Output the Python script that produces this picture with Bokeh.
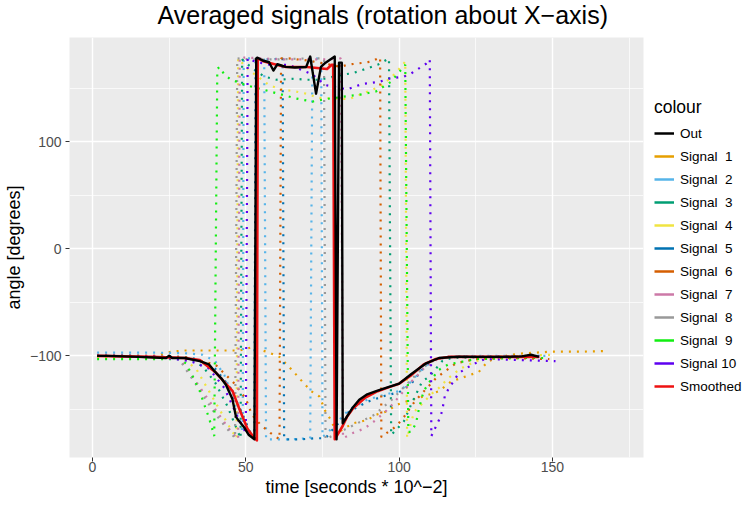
from bokeh.plotting import figure
from bokeh.models import FixedTicker, Legend, LegendItem, Range1d, Title
from bokeh.embed import file_html
from bokeh.resources import INLINE

FONT = "Liberation Sans"

# ---------------- data ----------------
x_ticks = [0, 50, 100, 150]
x_minor = [25, 75, 125, 175]
y_ticks = [-100, 0, 100]
y_tick_labels = ["\u2212100", "0", "100"]
y_minor = [-150, -50, 50, 150]

out_x = [1.5, 5, 10, 15, 20, 24, 25, 26, 30, 35, 38, 40, 42, 43.5, 45.6, 46.8, 47.8, 49.5, 51, 52.8,
         53.4, 53.7, 55.5, 57.6, 59, 60.3, 63, 66, 69.7, 71, 72.9, 74.5, 76, 79, 79.6, 80.4, 81.3, 81.6,
         84.7, 87, 89.6, 92.5, 96.7, 100, 104, 108.8, 113, 119.5, 125, 130, 135, 140, 143, 145.6]
out_y = [-100, -100, -100.5, -101, -101.5, -102, -100, -102, -102, -105, -108, -115, -121, -127, -140, -157,
         -161, -167, -174, -178, 178, 178.7, 176, 174.4, 166.6, 172.5, 170, 169.5, 170, 179.7, 145, 170, 174,
         179.7, -178, 174, 174, -163, -149, -141, -136, -133, -129, -126, -117, -107, -102, -100.7, -101,
         -101, -101, -100.5, -99, -101]

smooth_x = [1.5, 10, 20, 30, 35, 40, 45.7, 47.8, 50.5, 52.8, 53.6, 53.9, 56, 60, 63, 70, 76.5, 78, 78.5,
            79, 81.5, 83, 85, 89, 93, 97, 100, 104, 108, 112, 116, 125, 135, 145.6]
smooth_y = [-100, -100.5, -101, -102, -104, -115, -133, -149, -168, -177, -179, 178, 175, 172, 170, 170,
            168, 172, 172, -178, -166, -157, -149, -139, -133, -129, -126, -118, -108, -103, -101, -101,
            -101, -101]

s1_x = [1.5, 10, 20, 26, 30, 40, 48, 52, 56.6, 61, 65, 68.4, 71.3, 74, 76, 78, 79.5, 82, 85, 89.6, 92.5,
        96, 99, 103, 108, 113, 117, 123, 126, 129, 133.6, 139, 150, 160, 168.4]
s1_y = [-100, -100, -100, -96, -95, -95, -95, -92, -96, -101, -113, -124, -133, -138, -152, -161, -173,
        -168, -163, -160, -155, -152, -146, -142, -138, -133, -124, -118, -115, -105, -100.6, -98, -96,
        -96, -95.5]

s2_x = [1.5, 10, 20, 30, 36, 40, 43, 46, 48, 49, 49.3, 52, 56, 56.6, 60, 65, 71, 71.7, 73, 74.6, 75, 78,
        83.7, 89.6, 95.7, 100, 104, 107.5, 111, 115, 125, 135, 148]
s2_y = [-97, -97, -97, -97.5, -99, -105, -118, -140, -160, -172, 178, 178, 177, -178, -178, -178, -177,
        178, 178, 177, -176, -168, -150, -141, -136, -133, -124, -112, -104, -101, -100, -100, -100]

s3_x = [1.5, 10, 20, 32, 36, 40, 44, 47, 48.3, 48.8, 52, 56, 60, 66, 70, 74, 82, 84.7, 90, 93, 96.7, 97.4,
        99.4, 101.6, 104, 107.5, 110, 114, 117, 130, 147]
s3_y = [-101, -101, -101, -103, -110, -125, -147, -168, -177, 177, 169, 161, 158, 159, 158, 158, 163, 164,
        169, 172, 178, -174, -168, -161, -145, -124, -119, -105, -102, -101, -101]

s4_x = [1.5, 10, 20, 30, 34, 38, 42, 45, 47, 47.5, 50, 52, 57.6, 61.5, 66.4, 69.6, 74, 83.7, 94, 97.7,
        100.6, 102, 102.6, 104, 105, 110.8, 113, 116, 120, 125, 130, 140, 150]
s4_y = [-101, -101, -101, -103, -113, -133, -153, -168, -177, 178, 170, 165, 153, 149, 147, 145, 141, 140,
        152, 161, 170, 175, -177, -161, -152, -135, -130, -121, -112, -105, -101, -100, -99]

s5_x = [1.5, 10, 20, 30, 34, 40, 45, 49, 51.5, 52.8, 53.2, 58, 62, 62.5, 68, 73, 76, 78, 83.7, 89.6, 95.7,
        100, 104, 107.5, 111, 116, 130, 146]
s5_y = [-100, -100, -100.5, -101, -103, -112, -130, -155, -172, -177, 178, 177, 178, -178, -178, -177,
        -177, -170, -152, -143, -137, -134, -126, -113, -104, -101, -100.5, -100]

s6_x = [1.5, 10, 20, 30, 40, 46, 50, 52, 55, 58, 61, 61.5, 64, 70, 76, 81, 83, 88.6, 91, 93.8, 94.2, 96,
        99, 101.6, 105, 107.5, 112, 114.7, 118.5, 125, 135, 149]
s6_y = [-100, -100, -100.5, -101, -108, -125, -140, -155, -165, -172, -178, 178, 178, 176, 173, 170, 172,
        174, 175, 179, -176, -172, -166, -157, -143, -135, -121, -115, -107, -103, -102, -103]

s7_x = [1.5, 10, 20, 28, 31, 34, 38, 42, 45, 47.5, 48, 55, 62, 70, 76, 81, 81.7, 85, 88.6, 92.4, 96.7,
        100.6, 104, 108, 112, 116, 130, 146]
s7_y = [-100, -100, -100.5, -102, -112, -125, -142, -158, -170, -178, 179, 178, 177, 177, 177, 178, -177,
        -172, -168, -160, -149, -136, -124, -112, -104, -101, -101, -101]

s8_x = [1.5, 10, 20, 28, 31, 35, 39, 43, 46.5, 47.2, 52, 60, 70, 75.5, 76, 80, 85, 92, 98, 104, 109, 113,
        125, 146]
s8_y = [-99, -99, -100, -102, -115, -132, -150, -165, -177, 178, 177, 177, 178, 178, -178, -172, -165,
        -155, -140, -122, -108, -102, -101, -101]

s9_x = [1.5, 10, 20, 28, 30.5, 33, 35, 36.5, 38, 39.7, 40.7, 41.4, 43, 45.2, 50, 58, 66.4, 71.7, 76, 87,
        92.4, 97.3, 102, 103, 104, 105.5, 106.5, 108, 110, 113, 116, 125, 140, 148]
s9_y = [-103, -103, -103, -103, -107, -121, -133, -146, -158, -175, 168, 170, 163, 158, 153, 147, 140.5,
        137.6, 140, 144, 147, 156, 172, -171, -171, -163, -149, -133, -124, -113, -108, -103, -102, -102]

s10_x = [1.5, 10, 20, 32, 38, 43, 47, 50, 50.6, 53, 58, 64, 71.7, 76, 83, 88, 93.5, 96.7, 101.6, 104,
         108.8, 110, 110.5, 113, 114, 115, 117, 119.5, 124, 128, 140, 151]
s10_y = [-100, -100, -100.5, -105, -112, -130, -155, -172, 178, 175, 172, 172, 163, 153, 149, 154, 156,
         159, 161, 164, 173, 177, -175, -160, -152, -136, -127, -116, -108, -103, -104, -105]

legend_labels = ["Out", "Signal\u00a0\u00a01", "Signal\u00a0\u00a02", "Signal\u00a0\u00a03",
                 "Signal\u00a0\u00a04", "Signal\u00a0\u00a05", "Signal\u00a0\u00a06", "Signal\u00a0\u00a07",
                 "Signal\u00a0\u00a08", "Signal\u00a0\u00a09", "Signal 10", "Smoothed"]
legend_colors = ["#000000", "#E69F00", "#56B4E9", "#009E73", "#F0E442", "#0072B2", "#D55E00",
                 "#CC79A7", "#999999", "#11EE11", "#5E00F0", "#EE1111"]

signals = [(s1_x, s1_y), (s2_x, s2_y), (s3_x, s3_y), (s4_x, s4_y), (s5_x, s5_y),
           (s6_x, s6_y), (s7_x, s7_y), (s8_x, s8_y), (s9_x, s9_y), (s10_x, s10_y)]
all_series = [(out_x, out_y)] + signals + [(smooth_x, smooth_y)]

# ---------------- figure ----------------
p = figure(frame_width=574, frame_height=420,
           x_range=Range1d(-7.5, 179.7), y_range=Range1d(-195, 197.5),
           output_backend="svg", toolbar_location=None,
           min_border_left=0, min_border_right=0, min_border_top=0, min_border_bottom=0)
p.background_fill_color = "#EBEBEB"
p.border_fill_color = "white"
p.outline_line_color = None

# blank spacer between frame and title (nearest the frame)
p.add_layout(Title(text=" ", text_font_size="1px", standoff=3.5), "above")
p.add_layout(Title(text="Averaged signals (rotation about X\u2212axis)", align="left", offset=88,
                   text_font=FONT, text_font_size="25px", text_font_style="normal",
                   text_color="black", standoff=0, vertical_align="top"), "above")

p.xaxis.ticker = FixedTicker(ticks=x_ticks, minor_ticks=x_minor)
p.yaxis.ticker = FixedTicker(ticks=y_ticks, minor_ticks=y_minor)
p.yaxis.major_label_overrides = {t: lab for t, lab in zip(y_ticks, y_tick_labels)}

for ax in (p.xaxis[0], p.yaxis[0]):
    ax.axis_line_color = None
    ax.major_tick_line_color = "#333333"
    ax.major_tick_line_width = 1
    ax.major_tick_out = 4
    ax.major_tick_in = 0
    ax.minor_tick_line_color = None
    ax.major_label_text_font = FONT
    ax.major_label_text_font_size = "14px"
    ax.major_label_text_color = "#4D4D4D"
    ax.axis_label_text_font = FONT
    ax.axis_label_text_font_size = "18px"
    ax.axis_label_text_font_style = "normal"
    ax.axis_label_text_color = "black"

p.xaxis.axis_label = "time [seconds * 10^\u22122]"
p.yaxis.axis_label = "angle [degrees]"
p.xaxis.major_label_standoff = 0
p.xaxis.axis_label_standoff = 2
p.yaxis.major_label_standoff = 4
p.yaxis.axis_label_standoff = 3

for g in (p.xgrid[0], p.ygrid[0]):
    g.grid_line_color = "white"
    g.grid_line_width = 1.4
    g.minor_grid_line_color = "white"
    g.minor_grid_line_width = 0.7

# dotted signal lines
for (sx, sy), col in zip(signals, legend_colors[1:11]):
    p.line(sx, sy, line_color=col, line_width=2.2, line_dash="2 6")

p.line(smooth_x, smooth_y, line_color=legend_colors[11], line_width=2.6, line_join="round")
p.line(out_x, out_y, line_color=legend_colors[0], line_width=2.4, line_join="round")

# solid legend keys (single-point lines draw nothing in the panel)
items = []
for lab, col, (sx, sy) in zip(legend_labels, legend_colors, all_series):
    r = p.line(x=sx[:1], y=sy[:1], line_color=col, line_width=2.4)
    items.append(LegendItem(label=lab, renderers=[r]))

legend = Legend(items=items, title="colour", location="center_left",
                glyph_width=20, glyph_height=23, label_height=23, label_standoff=6, spacing=0,
                padding=0, margin=11, border_line_color=None, background_fill_alpha=0,
                label_text_font=FONT, label_text_font_size="13.5px", label_text_color="black",
                title_text_font=FONT, title_text_font_size="17.5px", title_text_font_style="normal",
                title_text_color="black", title_standoff=4)
p.add_layout(legend, "right")

open("out.html", "w").write(file_html(p, INLINE))
